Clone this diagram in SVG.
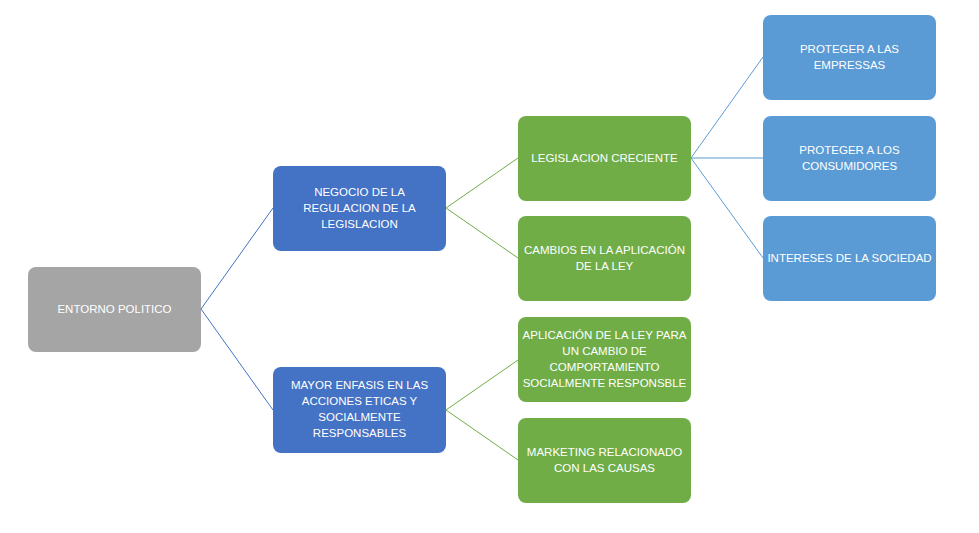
<svg xmlns="http://www.w3.org/2000/svg" width="979" height="533" viewBox="0 0 979 533">
<style>
.n rect{stroke:none}
.g rect{fill:#a5a5a5}
.b rect{fill:#4472c4}
.gr rect{fill:#70ad47}
.lb rect{fill:#5b9bd5}
text{font-family:"Liberation Sans",Arial,sans-serif;font-size:11.5px;fill:#ffffff;text-anchor:middle}
.c line{stroke-width:1;fill:none}
</style>
<rect width="979" height="533" fill="#ffffff"/>
<g class="c" id="connectors">
<line x1="201" y1="309" x2="273" y2="208" stroke="#4472c4"/>
<line x1="201" y1="309" x2="273" y2="410" stroke="#4472c4"/>
<line x1="446" y1="208" x2="518" y2="158" stroke="#70ad47"/>
<line x1="446" y1="208" x2="518" y2="258" stroke="#70ad47"/>
<line x1="446" y1="410" x2="518" y2="360" stroke="#70ad47"/>
<line x1="446" y1="410" x2="518" y2="460" stroke="#70ad47"/>
<line x1="691" y1="158" x2="763" y2="57" stroke="#5b9bd5"/>
<line x1="691" y1="158" x2="763" y2="158" stroke="#5b9bd5"/>
<line x1="691" y1="158" x2="763" y2="258" stroke="#5b9bd5"/>
</g>
<g id="root" class="n g"><rect x="28" y="267" width="173" height="85" rx="8"/><text x="114.5" y="313">ENTORNO POLITICO</text></g>
<g id="negocio" class="n b"><rect x="273" y="166" width="173" height="85" rx="8"/><text x="359.5" y="196">NEGOCIO DE LA</text><text x="359.5" y="212">REGULACION DE LA</text><text x="359.5" y="228">LEGISLACION</text></g>
<g id="mayor" class="n b"><rect x="273" y="367" width="173" height="86" rx="8"/><text x="359.5" y="389">MAYOR ENFASIS EN LAS</text><text x="359.5" y="405">ACCIONES ETICAS Y</text><text x="359.5" y="421">SOCIALMENTE</text><text x="359.5" y="437">RESPONSABLES</text></g>
<g id="legislacion" class="n gr"><rect x="518" y="116" width="173" height="85" rx="8"/><text x="604.5" y="162">LEGISLACION CRECIENTE</text></g>
<g id="cambios" class="n gr"><rect x="518" y="216" width="173" height="85" rx="8"/><text x="604.5" y="254">CAMBIOS EN LA APLICACIÓN</text><text x="604.5" y="270">DE LA LEY</text></g>
<g id="aplicacion" class="n gr"><rect x="518" y="317" width="173" height="85" rx="8"/><text x="604.5" y="339">APLICACIÓN DE LA LEY PARA</text><text x="604.5" y="355">UN CAMBIO DE</text><text x="604.5" y="371">COMPORTAMIENTO</text><text x="604.5" y="387">SOCIALMENTE RESPONSBLE</text></g>
<g id="marketing" class="n gr"><rect x="518" y="418" width="173" height="85" rx="8"/><text x="604.5" y="456">MARKETING RELACIONADO</text><text x="604.5" y="472">CON LAS CAUSAS</text></g>
<g id="empresas" class="n lb"><rect x="763" y="15" width="173" height="85" rx="8"/><text x="849.5" y="53">PROTEGER A LAS</text><text x="849.5" y="69">EMPRESSAS</text></g>
<g id="consumidores" class="n lb"><rect x="763" y="116" width="173" height="85" rx="8"/><text x="849.5" y="154">PROTEGER A LOS</text><text x="849.5" y="170">CONSUMIDORES</text></g>
<g id="sociedad" class="n lb"><rect x="763" y="216" width="173" height="85" rx="8"/><text x="849.5" y="262">INTERESES DE LA SOCIEDAD</text></g>
</svg>
